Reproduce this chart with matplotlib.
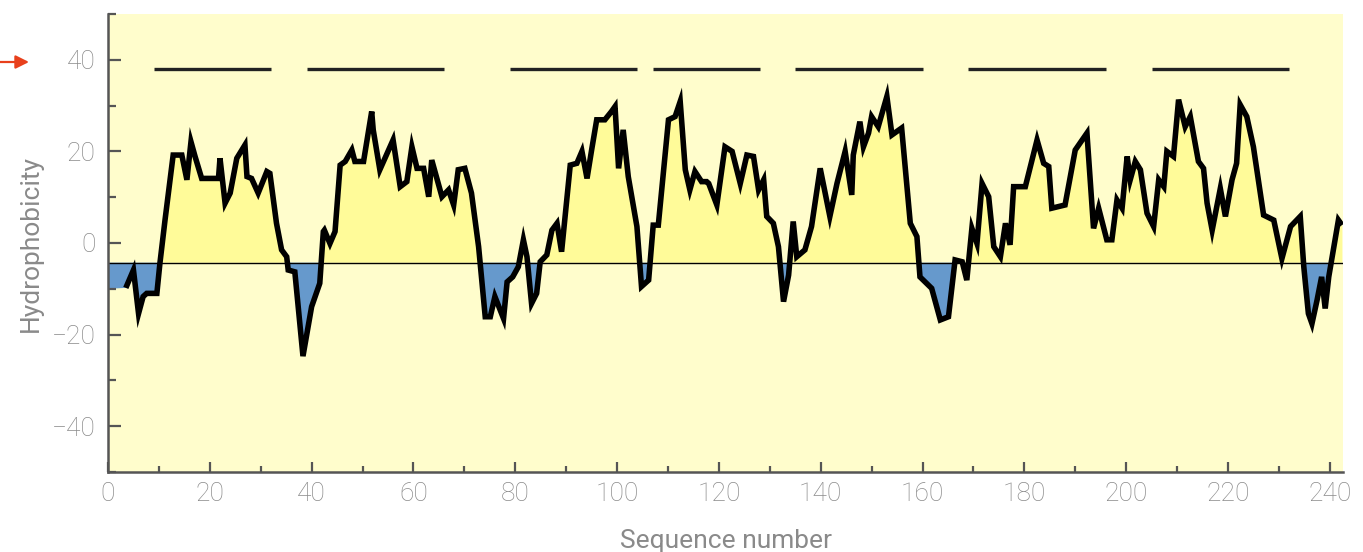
import numpy as np
import matplotlib
matplotlib.use("Agg")
import matplotlib.pyplot as plt
from matplotlib.ticker import MultipleLocator

# ---- data ----
seq = [0, 3.5, 5.0, 6.0, 6.9, 7.6, 9.6, 10.2, 11.2, 12.2, 12.8, 14.5, 15.5, 16.3, 17.1, 18.4,
       21.7, 22.0, 23.0, 24.0, 25.3, 26.9, 27.3, 28.2, 29.5, 31.2, 31.8, 33.1, 34.1, 35.1,
       35.4, 36.7, 38.3, 40.0, 41.6, 42.3, 42.5, 43.6, 44.6, 45.6, 46.6, 47.9, 48.5, 50.2,
       51.8, 52.1, 53.4, 56.0, 57.4, 58.7, 59.7, 60.7, 62.0, 63.0, 63.6, 65.6, 66.9, 67.9,
       68.8, 70.1, 71.4, 72.8, 74.1, 75.1, 76.0, 77.7, 78.4, 79.5, 80.6, 81.6, 82.3, 83.2,
       84.2, 84.9, 86.2, 87.2, 88.2, 89.1, 90.8, 92.1, 93.1, 94.1, 95.0, 96.0, 97.6, 98.9,
       99.6, 100.3, 101.2, 102.2, 103.9, 104.8, 106.2, 107.1, 108.1, 110.1, 111.4, 112.4,
       113.4, 114.3, 115.3, 116.6, 117.6, 118.0, 119.6, 121.2, 122.6, 124.2, 125.5, 126.8,
       127.8, 128.8, 129.4, 130.7, 131.7, 132.7, 133.7, 134.6, 135.3, 136.9, 138.2, 139.9,
       141.8, 143.2, 144.8, 146.1, 146.4, 147.7, 148.4, 149.4, 150.0, 151.3, 153.0, 154.0,
       155.9, 157.6, 158.9, 159.5, 161.8, 163.5, 165.1, 166.4, 167.8, 168.7, 169.7, 170.7,
       171.7, 173.0, 174.0, 175.3, 176.3, 177.2, 177.9, 180.2, 182.5, 183.8, 184.8, 185.4,
       188.0, 190.0, 192.3, 193.6, 194.6, 196.2, 197.2, 198.2, 199.2, 200.2, 200.8, 201.8,
       202.8, 204.1, 205.4, 206.4, 207.4, 208.0, 209.3, 210.3, 211.6, 212.6, 214.2, 215.2,
       215.9, 216.9, 218.5, 219.5, 220.8, 221.7, 222.4, 223.7, 225.0, 227.0, 229.0, 230.6,
       232.3, 234.2, 234.9, 235.8, 236.5, 237.5, 238.4, 239.1, 239.8, 240.7, 241.7, 242.4]

hydro = [-10, -9.8, -5.9, -15.4, -11.7, -11, -11, -4.4, 5, 13.8, 19.2, 19.2, 13.8, 22.1, 18.9, 14.1,
         14.1, 18.5, 8.7, 10.9, 18.5, 21.4, 14.5, 14.1, 10.9, 15.6, 15.2, 4.3, -1.5, -3,
         -5.9, -6.3, -24.7, -13.9, -8.8, 2.5, 2.8, -0.1, 2.5, 17, 17.8, 20.3, 17.8, 17.8,
         28.7, 24.7, 16, 22.5, 12.3, 13.4, 21, 16.3, 16.3, 10.1, 18.1, 10.1, 11.6, 8.3,
         16, 16.3, 10.9, -0.8, -16.1, -16.1, -11.7, -16.5, -8.5, -7.4, -5.2, 0.7, -3, -13.2,
         -11, -4.1, -2.6, 2.8, 4.3, -1.9, 17, 17.4, 20, 14.1, 20.3, 26.9, 26.9, 28.7,
         29.8, 16.3, 24.7, 14.5, 3.6, -9.5, -8.1, 3.9, 3.9, 26.9, 27.6, 30.9,
         16, 11.6, 15.6, 13.4, 13.4, 13, 8.3, 21, 20, 13, 19.2, 18.9,
         11.6, 13.8, 5.8, 4.3, -0.8, -12.8, -7, 4.7, -3, -1.5, 3.6, 16.3,
         5.8, 13, 20, 10.5, 19.2, 26.5, 21, 24, 27.6, 25.4, 32, 23.6,
         25.1, 4.3, 1.4, -7.4, -9.9, -16.8, -16.1, -3.7, -4.1, -8.1, 3.2, -0.1,
         13, 10.1, -0.8, -3, 4.3, -0.4, 12.3, 12.3, 22.5, 17.4, 16.7, 7.6,
         8.3, 20.3, 24, 3.2, 7.6, 0.7, 0.7, 9.4, 7.6, 18.9, 13.8, 17.8,
         16, 6.5, 3.6, 13.8, 12.3, 20, 18.9, 31.3, 25.4, 27.6, 17.8, 16.3,
         8.7, 2.8, 11.9, 5.8, 13.8, 17.4, 30.2, 27.6, 21, 6.1, 5, -3.4,
         3.6, 5.8, -5.2, -15.4, -17.6, -12.5, -7.4, -14.3, -7.4, -1.5, 5, 3.9]

baseline = -4.3
helix_start = [9, 39, 79, 107, 135, 169, 205]
helix_end = [32, 66, 104, 128, 160, 196, 232]
helix_level = 38
xticks = [0, 20, 40, 60, 80, 100, 120, 140, 160, 180, 200, 220, 240]
yticks = [-40, -20, 0, 20, 40]
ytick_labels = ["\u221240", "\u221220", "0", "20", "40"]

# ---- style ----
plt.rcParams['font.family'] = ['Roboto', 'DejaVu Sans']
plt.rcParams['font.weight'] = 'light'
label_color = '#8a8a8a'
spine_color = '#555555'

W, H = 1363, 552
fig = plt.figure(figsize=(W / 100, H / 100), dpi=100)
fig.patch.set_facecolor('white')
ax = fig.add_axes([108 / W, 1 - 472 / H, (1343 - 108) / W, (472 - 14) / H])
ax.set_facecolor('#FFFDCC')

x = np.array(seq, dtype=float)
y = np.array(hydro, dtype=float)

ax.fill_between(x, y, baseline, where=y >= baseline, interpolate=True,
                color='#FFFB99', linewidth=0, zorder=1)
ax.fill_between(x, y, baseline, where=y <= baseline, interpolate=True,
                color='#6699CC', linewidth=0, zorder=1)
ax.axhline(baseline, color='black', linewidth=1.0, zorder=2)
ax.plot(x[1:], y[1:], color='black', linewidth=4.0, solid_joinstyle='miter',
        solid_capstyle='butt', zorder=3)
ax.hlines([helix_level] * len(helix_start), helix_start, helix_end,
          color='#222222', linewidth=2.4, zorder=3)

ax.set_xlim(0, 242.6)
ax.set_ylim(-50, 50)
ax.set_xticks(xticks)
ax.set_yticks(yticks)
ax.set_yticklabels(ytick_labels)
ax.xaxis.set_minor_locator(MultipleLocator(10))
ax.yaxis.set_minor_locator(MultipleLocator(10))

for s in ['top', 'right']:
    ax.spines[s].set_visible(False)
for s in ['left', 'bottom']:
    ax.spines[s].set_color(spine_color)
    ax.spines[s].set_linewidth(1.8)

ax.tick_params(axis='x', which='major', direction='in', length=7, width=1.6,
               color=spine_color, labelsize=19, labelcolor=label_color, pad=7)
ax.tick_params(axis='x', which='minor', direction='in', length=4, width=1.6, color=spine_color)
ax.tick_params(axis='y', which='major', direction='in', length=9, width=1.6,
               color=spine_color, labelsize=19, labelcolor=label_color, pad=9)
ax.tick_params(axis='y', which='minor', direction='in', length=6, width=1.6, color=spine_color)

ax.set_xlabel('Sequence number', fontsize=19, color=label_color)
ax.set_ylabel('Hydrophobicity', fontsize=19, color=label_color)
ax.xaxis.set_label_coords(0.5, -0.125)
ax.yaxis.set_label_coords(-0.053, 0.5)

# red arrow pointing at helix markers
ax.annotate('', xy=(29, H - 62), xycoords='figure pixels',
            xytext=(0, H - 62), textcoords='figure pixels',
            arrowprops=dict(arrowstyle='-|>', color='#E8401C', lw=1.6,
                            mutation_scale=20, shrinkA=0, shrinkB=0))

fig.savefig('out.png', dpi=100, facecolor='white')
